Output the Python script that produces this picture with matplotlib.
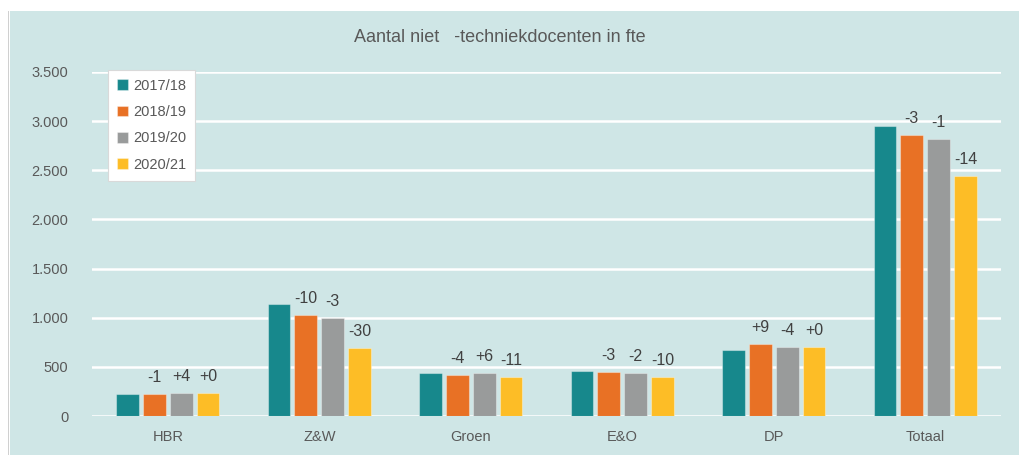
import numpy as np
import matplotlib
matplotlib.use('Agg')
from matplotlib import pyplot as plt
from matplotlib.patches import Rectangle

plt.rcParams['font.family'] = ['Liberation Sans', 'DejaVu Sans']

categories = ['HBR', 'Z&W', 'Groen', 'E&O', 'DP', 'Totaal']
years = ['2017/18', '2018/19', '2019/20', '2020/21']
v_1718 = [225, 1140, 434, 458, 672, 2948]
v_1819 = [223, 1028, 414, 444, 733, 2859]
v_1920 = [232, 994, 437, 434, 702, 2822]
v_2021 = [232, 695, 394, 394, 704, 2439]
# procentuele verandering t.o.v. vorig jaar, zoals in de grafiek
lab_1819 = ['-1', '-10', '-4', '-3', '+9', '-3']
lab_1920 = ['+4', '-3', '+6', '-2', '-4', '-1']
lab_2021 = ['+0', '-30', '-11', '-10', '+0', '-14']

colors = ['#17888c', '#e87125', '#999b9b', '#fdbd26']
txt = '#595959'
bg = '#cfe6e6'

fig = plt.figure(figsize=(10.19, 4.55), dpi=100)
fig.patch.set_facecolor('white')
# achtergrondpaneel
fig.patches.append(Rectangle((10/1019, 0), 1, (455-11)/455, transform=fig.transFigure,
                             facecolor=bg, edgecolor='none', zorder=-1))
fig.patches.append(Rectangle((8/1019, 0), 1.5/1019, (455-11)/455, transform=fig.transFigure,
                             facecolor='#d0d0d0', edgecolor='none', zorder=-1))

ax = fig.add_axes([92/1019, 39/455, 909/1019, 344/455])
ax.set_facecolor('none')
ax.set_zorder(2)

x = np.arange(len(categories))
w = 0.149
step = 0.178
series = [v_1718, v_1819, v_1920, v_2021]
labels = [None, lab_1819, lab_1920, lab_2021]
for i, vals in enumerate(series):
    pos = x + (i - 1.5) * step
    ax.bar(pos, vals, width=w, color=colors[i], edgecolor=(1, 1, 1, 0.35),
           linewidth=0.8, label=years[i], zorder=3)
    if labels[i] is not None:
        for p, v, s in zip(pos, vals, labels[i]):
            ax.annotate(s, (p, v), xytext=(0, 6.5), textcoords='offset points',
                        ha='center', va='bottom', fontsize=11.5, color='#404040')

ax.set_xlim(-0.5, len(categories) - 0.5)
ax.set_ylim(0, 3500)
ax.set_yticks(np.arange(0, 3501, 500))
ax.set_yticklabels(['0', '500', '1.000', '1.500', '2.000', '2.500', '3.000', '3.500'])
ax.set_xticks(x)
ax.set_xticklabels(categories)
ax.tick_params(axis='both', length=0, labelsize=10.5, labelcolor=txt)
ax.tick_params(axis='y', pad=17)
ax.tick_params(axis='x', pad=10)
ax.yaxis.grid(True, color='white', linewidth=1.8, zorder=0)
ax.set_axisbelow(True)
for sp in ax.spines.values():
    sp.set_visible(False)

leg = ax.legend(loc='upper left', bbox_to_anchor=(16/909, 1.006), borderaxespad=0,
                fontsize=10.5, handlelength=0.75, handleheight=0.75, handletextpad=0.4,
                labelspacing=0.85, fancybox=False, framealpha=1, edgecolor='#d9d9d9',
                borderpad=0.6)
for t in leg.get_texts():
    t.set_color(txt)
leg.get_frame().set_linewidth(0.8)

fig.text(500/1019, (455-38)/455, 'Aantal niet   -techniekdocenten in fte', ha='center',
         va='center', fontsize=13, color=txt)

plt.savefig('out.png', dpi=100, facecolor=fig.get_facecolor())
